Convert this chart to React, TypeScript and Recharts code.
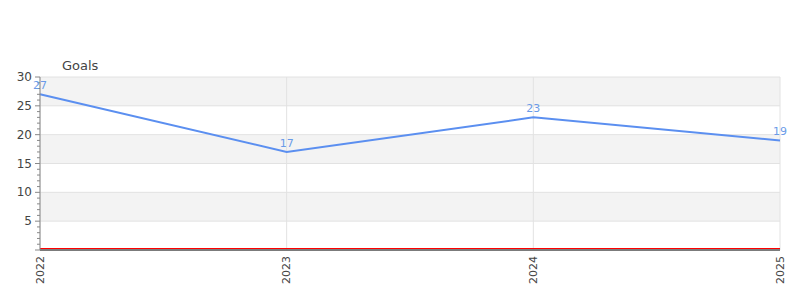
import React from 'react'
import {
  LineChart,
  Line,
  XAxis,
  YAxis,
  CartesianGrid,
  LabelList,
  ReferenceLine,
} from 'recharts'

const years = ['2022', '2023', '2024', '2025']
const goals = [27, 17, 23, 19]
const majorTicks = [0, 5, 10, 15, 20, 25, 30]
const minorTicks = Array.from({ length: 31 }, (_, i) => i)

const data = years.map((year, i) => ({ year, goals: goals[i] }))

const FONT = '"DejaVu Sans", Verdana, sans-serif'
const TEXT = '#444'

function YTick(props: any) {
  const { x, y, payload } = props
  const v = payload.value as number
  const major = v % 5 === 0
  return (
    <g>
      <line x1={x - (major ? 5 : 3)} x2={x} y1={y} y2={y} stroke="#888" />
      {major && v > 0 && (
        <text
          x={x - 8}
          y={y}
          textAnchor="end"
          dominantBaseline="central"
          fill={TEXT}
          fontSize={12}
          fontFamily={FONT}
        >
          {v}
        </text>
      )}
    </g>
  )
}

function XTick(props: any) {
  const { x, y, payload } = props
  return (
    <text
      transform={`translate(${x},${y + 6}) rotate(-90)`}
      textAnchor="end"
      dominantBaseline="central"
      fill={TEXT}
      fontSize={11}
      fontFamily={FONT}
    >
      {payload.value}
    </text>
  )
}

// red zero line sits just above the dark axis line
function ZeroLine(props: any) {
  const { x1, x2, y1 } = props
  return <line x1={x1} x2={x2} y1={y1 - 1.5} y2={y1 - 1.5} stroke="#ff0000" strokeWidth={1} />
}

export default function App() {
  return (
    <div style={{ position: 'absolute', left: 0, top: 0, width: 800, height: 300, background: '#fff' }}>
      <div
        style={{
          position: 'absolute',
          left: 62,
          top: 58,
          fontFamily: FONT,
          fontSize: 13,
          color: TEXT,
        }}
      >
        Goals
      </div>
      <LineChart
        width={800}
        height={300}
        data={data}
        margin={{ top: 77, right: 20, bottom: 0, left: 0 }}
      >
        <CartesianGrid
          stroke="#e2e2e2"
          horizontalValues={majorTicks}
          horizontalFill={['#f3f3f3', '#ffffff']}
          fillOpacity={1}
        />
        <XAxis
          dataKey="year"
          height={50}
          tickLine={false}
          tickSize={0}
          tickMargin={0}
          interval={0}
          stroke="#555"
          strokeWidth={1.5}
          tick={<XTick />}
        />
        <YAxis
          width={40}
          domain={[0, 30]}
          ticks={minorTicks}
          interval={0}
          tickLine={false}
          tickSize={0}
          tickMargin={0}
          stroke="#888"
          tick={<YTick />}
        />
        <ReferenceLine y={0} shape={<ZeroLine />} />
        <Line
          type="linear"
          dataKey="goals"
          stroke="#5b8ff0"
          strokeWidth={2}
          dot={false}
          isAnimationActive={false}
        >
          <LabelList
            dataKey="goals"
            position="top"
            offset={5}
            fill="#6a9be8"
            fontSize={11}
            fontFamily={FONT}
          />
        </Line>
      </LineChart>
    </div>
  )
}
